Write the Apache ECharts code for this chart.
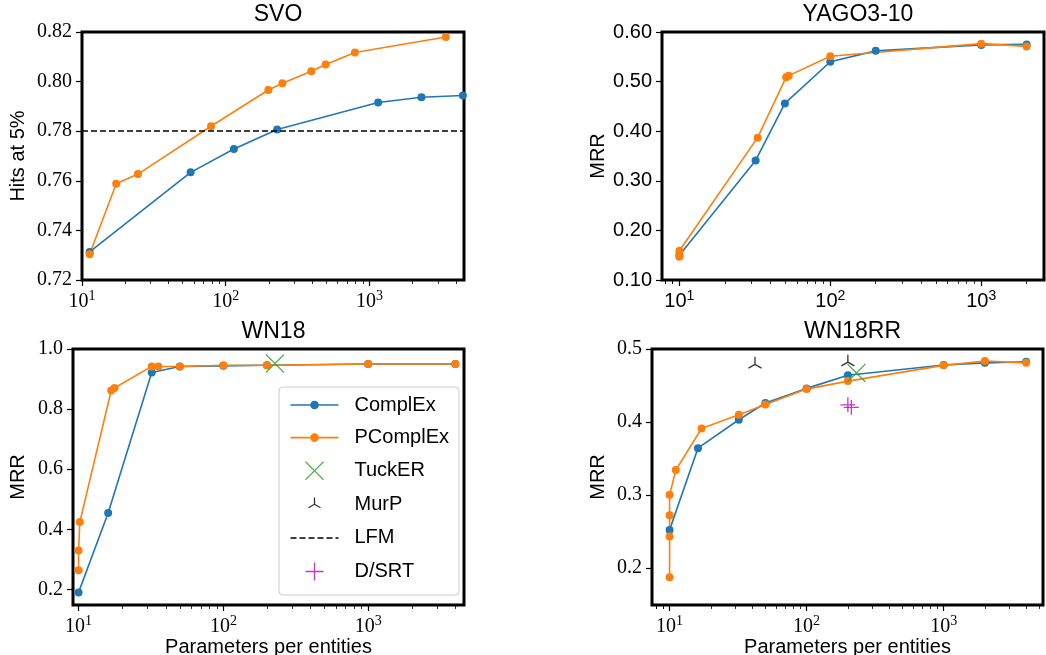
<!DOCTYPE html>
<html><head><meta charset="utf-8">
<script src="https://cdn.jsdelivr.net/npm/echarts/dist/echarts.min.js"></script>
<style>html,body{margin:0;padding:0;background:#fff}#c{width:1046px;height:655px}</style>
</head><body><div id="c"></div><script>
// ---------- data ----------
const svoComplExX = [11.3, 57, 114, 228, 1150, 2300, 4470];
const svoComplExY = [0.7313, 0.7634, 0.7728, 0.7807, 0.7916, 0.7937, 0.7944];
const svoPComplExX = [11.3, 17.3, 24.5, 79, 198, 248, 394, 496, 793, 3400];
const svoPComplExY = [0.7304, 0.7588, 0.7627, 0.782, 0.7966, 0.7993, 0.8042, 0.8069, 0.8117, 0.818];
const svoLFM = 0.78;

const yagoComplExX = [10, 32, 50, 100, 200, 1000, 2000];
const yagoComplExY = [0.150, 0.341, 0.456, 0.540, 0.562, 0.574, 0.575];
const yagoPComplExX = [10, 10, 33, 51, 53, 100, 1000, 2000];
const yagoPComplExY = [0.147, 0.159, 0.387, 0.509, 0.512, 0.551, 0.5765, 0.571];

const wn18ComplExX = [10, 16, 32, 50, 100, 200, 1000, 4000];
const wn18ComplExY = [0.19, 0.454, 0.922, 0.942, 0.944, 0.946, 0.95, 0.95];
const wn18PComplExX = [10, 10, 10.2, 16.8, 17.7, 32, 35.6, 50, 100, 200, 1000, 4000];
const wn18PComplExY = [0.264, 0.329, 0.424, 0.862, 0.870, 0.942, 0.942, 0.942, 0.946, 0.946, 0.95, 0.95];
const wn18TuckERX = [227];
const wn18TuckERY = [0.952];

const wn18rrComplExX = [10, 16.1, 32, 50, 100, 200, 1000, 2000, 4000];
const wn18rrComplExY = [0.252, 0.364, 0.403, 0.426, 0.446, 0.464, 0.478, 0.481, 0.4826];
const wn18rrPComplExX = [10, 10, 10, 10, 11.1, 17.1, 32, 50, 100, 200, 1000, 2000, 4000];
const wn18rrPComplExY = [0.187, 0.243, 0.272, 0.300, 0.334, 0.391, 0.41, 0.424, 0.445, 0.456, 0.4776, 0.4835, 0.481];
const wn18rrMurPX = [42, 200];
const wn18rrMurPY = [0.479, 0.482];
const wn18rrTuckERX = [231];
const wn18rrTuckERY = [0.467];
const wn18rrDSRTX = [200, 212];
const wn18rrDSRTY = [0.4235, 0.420];

const titles = ['SVO', 'YAGO3-10', 'WN18', 'WN18RR'];
const yNames = ['Hits at 5%', 'MRR', 'MRR', 'MRR'];
const xName = 'Parameters per entities';
const xMajorTicks = [10, 100, 1000];
const svoYTicks = [0.72, 0.74, 0.76, 0.78, 0.80, 0.82];
const yagoYTicks = [0.1, 0.2, 0.3, 0.4, 0.5, 0.6];
const wn18YTicks = [0.2, 0.4, 0.6, 0.8, 1.0];
const wn18rrYTicks = [0.2, 0.3, 0.4, 0.5];
const legendNames = ['ComplEx', 'PComplEx', 'TuckER', 'MurP', 'LFM', 'D/SRT'];

// ---------- styling / layout ----------
const BLUE = '#1f77b4', ORANGE = '#ff7f0e', GREEN = '#2ca02c', MAG = '#bf00bf';
const SERIF = 'Liberation Serif', SANS = 'Liberation Sans';
const xMinor = [];
[1, 10, 100, 1000].forEach(d => { for (let k = 2; k <= 9; k++) xMinor.push(d * k); });
xMinor.push(7, 8, 9);

const panels = [
  {left: 82, top: 32, width: 382, height: 248, xmin: 10, xmax: 4550, ymin: 0.72, ymax: 0.82, yticks: svoYTicks, dec: 2, tickFont: SERIF, nameGap: 54, xName: false},
  {left: 662, top: 32, width: 382, height: 248, xmin: 7.67, xmax: 2606, ymin: 0.1, ymax: 0.6, yticks: yagoYTicks, dec: 2, tickFont: SANS, nameGap: 54, xName: false},
  {left: 73, top: 349, width: 391, height: 256, xmin: 9.15, xmax: 4590, ymin: 0.148, ymax: 1.0, yticks: wn18YTicks, dec: 1, tickFont: SERIF, nameGap: 45, xName: true},
  {left: 652, top: 349, width: 391, height: 256, xmin: 7.44, xmax: 5310, ymin: 0.149, ymax: 0.5, yticks: wn18rrYTicks, dec: 1, tickFont: SERIF, nameGap: 44, xName: true}
];

const pairs = (xs, ys) => xs.map((x, i) => [x, ys[i]]);

const X_PATH = 'path://M0,0L10,10M10,0L0,10';
const TRI_PATH = 'path://M5,5L5,0M5,5L0.67,7.5M5,5L9.33,7.5M5,10L5,10';
const PLUS_PATH = 'path://M5,0L5,10M0,5L10,5';
// legend icons (drawn in a 48 x 18 box)
const LEG_LINE_DOT = 'path://M0,9L48,9M20.5,9A3.5,3.5,0,1,1,27.5,9A3.5,3.5,0,1,1,20.5,9ZM0,0L0,0M0,18L0,18';
const LEG_DASH = 'path://M0,9L6,9M9,9L15,9M18,9L24,9M27,9L33,9M36,9L42,9M45,9L48,9M0,0L0,0M0,18L0,18';
const LEG_TRI = 'path://M5,5L5,0M5,5L0.67,7.5M5,5L9.33,7.5M5,-1.5L5,-1.5M5,11.5L5,11.5';

const grid = [], xAxis = [], yAxis = [], title = [];
panels.forEach((p, i) => {
  grid.push({left: p.left, top: p.top, width: p.width, height: p.height, show: true,
    borderColor: '#000', borderWidth: 3, backgroundColor: 'transparent', containLabel: false,
    outerBoundsMode: 'none'});
  title.push({text: titles[i], left: p.left + p.width / 2, top: p.top - 34, textAlign: 'center',
    textStyle: {fontFamily: SANS, fontSize: 23, fontWeight: 'normal', color: '#000'}});
  const rich = {
    b: {fontFamily: p.tickFont, fontSize: 20, color: '#000'},
    s: {fontFamily: p.tickFont, fontSize: 14, color: '#000', padding: [0, 0, 11, 0]}
  };
  xAxis.push({type: 'log', logBase: 10, gridIndex: i, position: 'bottom', min: p.xmin, max: p.xmax,
    axisLine: {show: false}, splitLine: {show: false},
    axisTick: {show: true, customValues: xMajorTicks, length: 6, lineStyle: {color: '#000', width: 1.2}},
    axisLabel: {customValues: xMajorTicks, margin: 9, rich: rich,
      formatter: v => '{b|10}{s|' + Math.round(Math.log10(v)) + '}'},
    name: p.xName ? xName : '', nameLocation: 'middle', nameGap: 30,
    nameTextStyle: {fontFamily: SANS, fontSize: 20, color: '#000'}});
  xAxis.push({type: 'log', logBase: 10, gridIndex: i, position: 'bottom', min: p.xmin, max: p.xmax,
    axisLine: {show: false}, splitLine: {show: false}, axisLabel: {show: false},
    axisTick: {show: true, customValues: xMinor.filter(v => v > p.xmin && v < p.xmax), length: 4,
      lineStyle: {color: '#000', width: 0.8}}});
  yAxis.push({type: 'value', gridIndex: i, min: p.ymin, max: p.ymax,
    axisLine: {show: false}, splitLine: {show: false},
    axisTick: {show: true, customValues: p.yticks, length: 6, lineStyle: {color: '#000', width: 1.2}},
    axisLabel: {customValues: p.yticks, formatter: v => v.toFixed(p.dec), margin: 10,
      fontFamily: p.tickFont, fontSize: 20, color: '#000'},
    name: yNames[i], nameLocation: 'middle', nameGap: p.nameGap, nameRotate: 90,
    nameTextStyle: {fontFamily: SANS, fontSize: 20, color: '#000'}});
});

function lineSeries(name, color, gi, data) {
  return {type: 'line', name: name, xAxisIndex: gi * 2, yAxisIndex: gi, data: data,
    symbol: 'circle', symbolSize: 8, showSymbol: true, color: color,
    itemStyle: {color: color}, lineStyle: {color: color, width: 1.6}, animation: false, z: 3};
}
function markerSeries(name, color, gi, data, path, size, z) {
  return {type: 'scatter', name: name, xAxisIndex: gi * 2, yAxisIndex: gi, data: data,
    symbol: path, symbolSize: size, symbolKeepAspect: true, color: color,
    itemStyle: {color: 'none', borderColor: color, borderWidth: 1.3}, animation: false, z: z || 4};
}

const series = [
  lineSeries('ComplEx', BLUE, 0, pairs(svoComplExX, svoComplExY)),
  lineSeries('PComplEx', ORANGE, 0, pairs(svoPComplExX, svoPComplExY)),
  {type: 'line', name: 'LFM', xAxisIndex: 0, yAxisIndex: 0, data: [], symbol: 'none', color: '#000',
    lineStyle: {color: '#000', width: 1.5, type: [6, 3]}, animation: false,
    markLine: {silent: true, symbol: 'none', label: {show: false}, animation: false,
      lineStyle: {color: '#000', width: 1.5, type: [6, 3]}, data: [{yAxis: svoLFM}]}},
  lineSeries('ComplEx', BLUE, 1, pairs(yagoComplExX, yagoComplExY)),
  lineSeries('PComplEx', ORANGE, 1, pairs(yagoPComplExX, yagoPComplExY)),
  lineSeries('ComplEx', BLUE, 2, pairs(wn18ComplExX, wn18ComplExY)),
  lineSeries('PComplEx', ORANGE, 2, pairs(wn18PComplExX, wn18PComplExY)),
  markerSeries('TuckER', GREEN, 2, pairs(wn18TuckERX, wn18TuckERY), X_PATH, 18),
  markerSeries('MurP', '#000', 2, [], TRI_PATH, 15),
  markerSeries('D/SRT', MAG, 2, [], PLUS_PATH, 18),
  lineSeries('ComplEx', BLUE, 3, pairs(wn18rrComplExX, wn18rrComplExY)),
  lineSeries('PComplEx', ORANGE, 3, pairs(wn18rrPComplExX, wn18rrPComplExY)),
  markerSeries('MurP', '#000', 3, pairs(wn18rrMurPX, wn18rrMurPY), TRI_PATH, 15),
  markerSeries('TuckER', GREEN, 3, pairs(wn18rrTuckERX, wn18rrTuckERY), X_PATH, 18),
  markerSeries('D/SRT', MAG, 3, pairs(wn18rrDSRTX, wn18rrDSRTY), PLUS_PATH, 15)
];

const legendData = [
  {name: legendNames[0], icon: LEG_LINE_DOT, itemStyle: {color: BLUE, borderColor: BLUE, borderWidth: 1.6}},
  {name: legendNames[1], icon: LEG_LINE_DOT, itemStyle: {color: ORANGE, borderColor: ORANGE, borderWidth: 1.6}},
  {name: legendNames[2], icon: X_PATH, itemStyle: {color: 'none', borderColor: GREEN, borderWidth: 1.3}},
  {name: legendNames[3], icon: LEG_TRI, itemStyle: {color: 'none', borderColor: '#000', borderWidth: 1.3}},
  {name: legendNames[4], icon: LEG_DASH, itemStyle: {color: 'none', borderColor: '#000', borderWidth: 1.5}},
  {name: legendNames[5], icon: PLUS_PATH, itemStyle: {color: 'none', borderColor: MAG, borderWidth: 1.3}}
];

const option = {
  animation: false,
  backgroundColor: '#fff',
  title: title,
  grid: grid,
  xAxis: xAxis,
  yAxis: yAxis,
  legend: {data: legendData, orient: 'vertical', left: 279, top: 387,
    itemWidth: 48, itemHeight: 18, itemGap: 10.6, padding: [7, 10, 12, 9],
    backgroundColor: 'rgba(255,255,255,0.8)', borderColor: '#cccccc', borderWidth: 1, borderRadius: 4,
    selectedMode: false,
    textStyle: {fontFamily: SANS, fontSize: 20, color: '#000', lineHeight: 22, padding: [0, 0, 0, 11]}},
  series: series
};

const chart = echarts.init(document.getElementById('c'), null, {renderer: 'canvas'});
chart.setOption(option);
</script></body></html>
